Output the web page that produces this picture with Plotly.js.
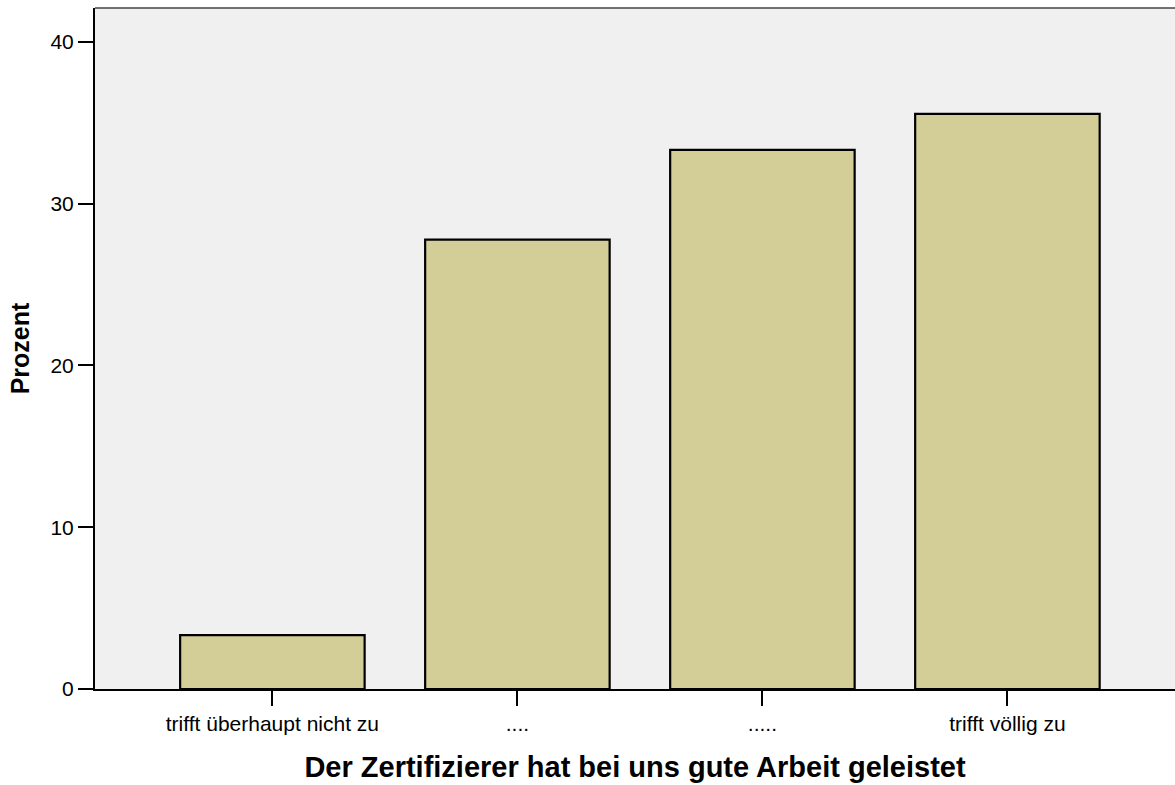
<!DOCTYPE html>
<html>
<head>
<meta charset="utf-8">
<script src="https://cdn.plot.ly/plotly-3.0.1.min.js"></script>
<style>html,body{margin:0;padding:0;background:#fff;}#chart{width:1175px;height:785px;}</style>
</head>
<body>
<div id="chart"></div>
<script>
const categories = ["trifft überhaupt nicht zu", "....", ".....", "trifft völlig zu"];
const percents = [3.33, 27.78, 33.33, 35.56];
const yTicks = [0, 10, 20, 30, 40];

const trace = {
  type: "bar",
  x: categories,
  y: percents,
  width: 0.753,
  marker: { color: "#d3ce97", line: { color: "#000", width: 2.2 } },
  hoverinfo: "x+y"
};

const layout = {
  width: 1175, height: 785,
  margin: { l: 95, r: 0, t: 8, b: 96 },
  paper_bgcolor: "#ffffff",
  plot_bgcolor: "#f0f0f0",
  font: { family: "Liberation Sans, Arial, sans-serif", color: "#000", size: 21 },
  showlegend: false,
  bargap: 0,
  xaxis: {
    type: "category",
    range: [-0.724, 3.684],
    showgrid: false, zeroline: false,
    showline: true, linecolor: "#000", linewidth: 2,
    ticks: "outside", ticklen: 15, tickwidth: 2, tickcolor: "#000",
    tickfont: { size: 21 },
    title: { text: "Der Zertifizierer hat bei uns gute Arbeit geleistet", font: { size: 29, weight: "bold" }, standoff: 22 }
  },
  yaxis: {
    range: [0, 42.1],
    tickvals: yTicks,
    showgrid: false, zeroline: false,
    showline: true, linecolor: "#000", linewidth: 2,
    ticks: "outside", ticklen: 15, tickwidth: 2, tickcolor: "#000",
    tickfont: { size: 21 },
    title: { text: "Prozent", font: { size: 25, weight: "bold" }, standoff: 14 }
  },
  shapes: [
    { type: "line", xref: "paper", yref: "paper", x0: 0, x1: 1, y0: 1, y1: 1, line: { color: "#444", width: 1.5 } }
  ]
};

Plotly.newPlot("chart", [trace], layout, { displayModeBar: false, staticPlot: true });
</script>
</body>
</html>
